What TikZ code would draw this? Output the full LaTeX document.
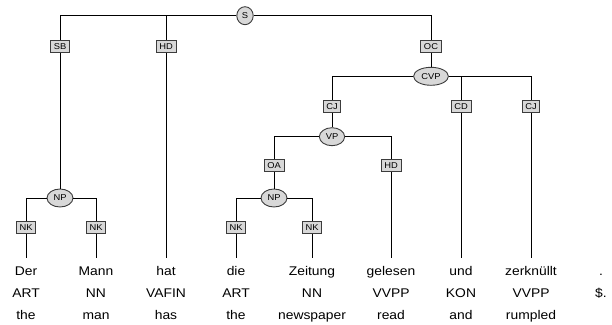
\documentclass[tikz,border=0pt]{standalone}
\usepackage{fontspec}
\setmainfont{Liberation Sans}[FakeStretch=1.1]
\usepackage{tikz}
\usetikzlibrary{shapes}
\definecolor{gris}{RGB}{216, 216, 216}
\definecolor{borde}{RGB}{60, 60, 60}
\tikzset{
    cat/.style={draw, ellipse, fill=gris, draw=borde, line width=0.9pt, font=\fontsize{8.5}{9}\selectfont, inner xsep=2.7pt, inner ysep=1pt, minimum height=18pt},
    fun/.style={draw, rectangle, fill=gris, draw=borde, line width=0.9pt, font=\fontsize{8.5}{9}\selectfont, inner xsep=3.2pt, inner ysep=0pt, minimum height=12pt},
    tok/.style={anchor=base, font=\fontsize{12.6}{14}\selectfont, text height=9.2pt, inner ysep=8.3pt, inner xsep=0pt},
    conn/.style={-, black, line width=0.9pt},
}
\begin{document}
\begin{tikzpicture}[x=1pt, y=-1pt]
    \useasboundingbox (0,0) rectangle (612,324);
    % words, tags, glosses
    \node [tok] (w1) at (26,275.5) {Der};
    \node [tok] (w2) at (96,275.5) {Mann};
    \node [tok] (w3) at (166,275.5) {hat};
    \node [tok] (w4) at (236,275.5) {die};
    \node [tok] (w5) at (312,275.5) {Zeitung};
    \node [tok] (w6) at (391,275.5) {gelesen};
    \node [tok] (w7) at (461,275.5) {und};
    \node [tok] (w8) at (531,275.5) {zerknüllt};
    \node [tok] (w9) at (601,275.5) {.};

    \node [tok] (t1) at (26,297.5) {ART};
    \node [tok] (t2) at (96,297.5) {NN};
    \node [tok] (t3) at (166,297.5) {VAFIN};
    \node [tok] (t4) at (236,297.5) {ART};
    \node [tok] (t5) at (312,297.5) {NN};
    \node [tok] (t6) at (391,297.5) {VVPP};
    \node [tok] (t7) at (461,297.5) {KON};
    \node [tok] (t8) at (531,297.5) {VVPP};
    \node [tok] (t9) at (601,297.5) {\$.};

    \node [tok] (g1) at (26,319.5) {the};
    \node [tok] (g2) at (96,319.5) {man};
    \node [tok] (g3) at (166,319.5) {has};
    \node [tok] (g4) at (236,319.5) {the};
    \node [tok] (g5) at (312,319.5) {newspaper};
    \node [tok] (g6) at (391,319.5) {read};
    \node [tok] (g7) at (461,319.5) {and};
    \node [tok] (g8) at (531,319.5) {rumpled};

    % tree
    \node [cat] (s) at (245,15.7) {S};
    \node [fun] (sb) at (60,46.7) {SB};
    \node [fun] (hd1) at (166,46.7) {HD};
    \node [fun] (oc) at (431,46.7) {OC};
    \node [cat] (cvp) at (431,76.3) {CVP};
    \node [fun] (cj1) at (332,106.7) {CJ};
    \node [fun] (cd) at (461,106.7) {CD};
    \node [fun] (cj2) at (531,106.7) {CJ};
    \node [cat] (vp) at (332,136.7) {VP};
    \node [fun] (oa) at (274,165.7) {OA};
    \node [fun] (hd2) at (391,165.7) {HD};
    \node [cat] (np1) at (60,198) {NP};
    \node [cat] (np2) at (274,198) {NP};
    \node [fun] (nk1) at (26,227.7) {NK};
    \node [fun] (nk2) at (96,227.7) {NK};
    \node [fun] (nk3) at (236,227.7) {NK};
    \node [fun] (nk4) at (312,227.7) {NK};

    \draw[conn] (s) -| (sb);
    \draw[conn] (s) -| (hd1);
    \draw[conn] (s) -| (oc);
    \draw[conn] (sb) -- (np1);
    \draw[conn] (hd1) -- (w3);
    \draw[conn] (oc) -- (cvp);

    \draw[conn] (cvp) -| (cj1);
    \draw[conn] (cvp) -| (cd);
    \draw[conn] (cvp) -| (cj2);
    \draw[conn] (cj1) -- (vp);
    \draw[conn] (cd) -- (w7);
    \draw[conn] (cj2) -- (w8);

    \draw[conn] (vp) -| (oa);
    \draw[conn] (vp) -| (hd2);
    \draw[conn] (oa) -- (np2);
    \draw[conn] (hd2) -- (w6);

    \draw[conn] (np1) -| (nk1);
    \draw[conn] (np1) -| (nk2);
    \draw[conn] (np2) -| (nk3);
    \draw[conn] (np2) -| (nk4);
    \draw[conn] (nk1) -- (w1);
    \draw[conn] (nk2) -- (w2);
    \draw[conn] (nk3) -- (w4);
    \draw[conn] (nk4) -- (w5);
\end{tikzpicture}
\end{document}
